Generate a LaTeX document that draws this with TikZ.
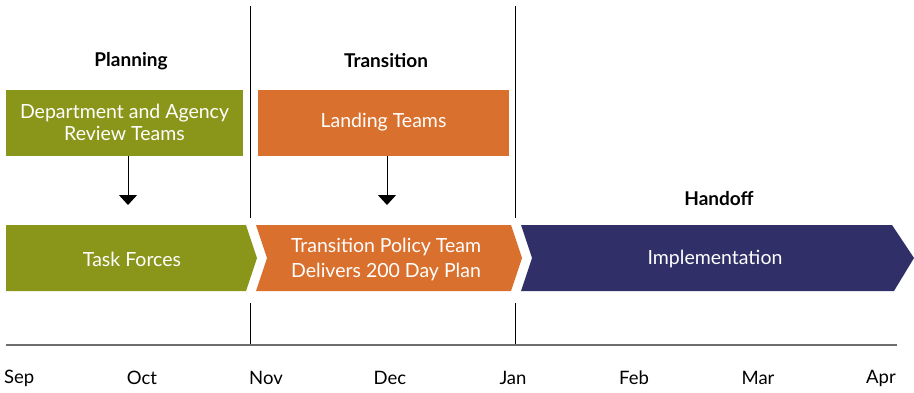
\documentclass[tikz,border=0pt]{standalone}
\usepackage{fontspec}
\setmainfont{Lato}
\usetikzlibrary{arrows.meta}
\definecolor{olive}{RGB}{138,150,26}
\definecolor{orng}{RGB}{218,112,46}
\definecolor{navy}{RGB}{48,47,104}
\definecolor{axisgray}{RGB}{110,110,110}
\begin{document}
\begin{tikzpicture}[x=1pt,y=-1pt,
  topbox/.style={minimum width=#1, minimum height=66pt, inner sep=0pt, text=white, align=center, font=\fontsize{19.5}{22}\selectfont},
  chevtext/.style={text=white, align=center, font=\fontsize{19.5}{25}\selectfont},
  head/.style={font=\fontsize{19}{22}\selectfont\bfseries},
  month/.style={font=\fontsize{18.5}{20}\selectfont},
  sep/.style={draw=black, line width=1pt},
  down/.style={draw=black, line width=1pt, -{Triangle[width=18pt,length=10pt]}}
]
\useasboundingbox (0,0) rectangle (914,392);
% separators
\draw[sep] (250,6) -- (250,218);
\draw[sep] (250,303) -- (250,345);
\draw[sep] (515,6) -- (515,218);
\draw[sep] (515,303) -- (515,345);
% axis
\draw[axisgray, line width=1.6pt] (6,345) -- (897,345);
% headings
\node[head] (hplan) at (131,61) {Planning};
\node[head] (htrans) at (386,61) {Transition};
\node[head] (hhand) at (719,199) {Handoff};
% top boxes
\node[topbox=237pt, fill=olive] (review) at (124.5,122.5) {Department and Agency\\Review Teams};
\node[topbox=251pt, fill=orng] (landing) at (383.5,122.5) {Landing Teams};
\coordinate (a1) at (128,205);
\coordinate (a2) at (387,205);
\draw[down] (review.south -| a1) -- (a1);
\draw[down] (landing.south -| a2) -- (a2);
% chevrons
\fill[olive] (6,225) -- (246,225) -- (257,258) -- (246,291) -- (6,291) -- cycle;
\fill[orng] (256,225) -- (511,225) -- (522,258) -- (511,291) -- (256,291) -- (267,258) -- cycle;
\fill[navy] (521,225) -- (892,225) -- (914,258) -- (894,291) -- (521,291) -- (532,258) -- cycle;
\node[chevtext] (task) at (132,259) {Task Forces};
\node[chevtext] (policy) at (386,259) {Transition Policy Team\\Delivers 200 Day Plan};
\node[chevtext] (impl) at (715,259) {Implementation};
% months
\node[month, anchor=west, inner sep=0pt] (sep) at (4,378) {Sep};
\node[month] (oct) at (142,378) {Oct};
\node[month] (nov) at (266,378) {Nov};
\node[month] (dec) at (390,378) {Dec};
\node[month] (jan) at (513,378) {Jan};
\node[month] (feb) at (634,378) {Feb};
\node[month] (mar) at (758,378) {Mar};
\node[month, anchor=east, inner sep=0pt] (apr) at (896,378) {Apr};
\end{tikzpicture}
\end{document}
